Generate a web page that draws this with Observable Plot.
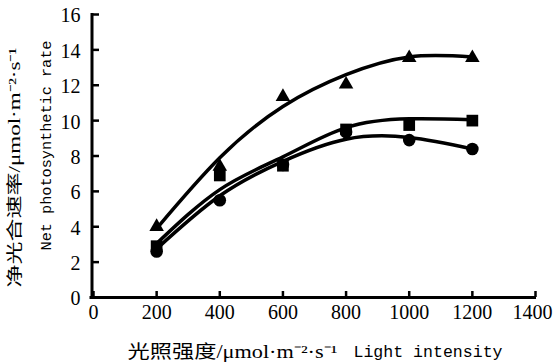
<!DOCTYPE html>
<html>
<head>
<meta charset="utf-8">
<script src="https://cdn.jsdelivr.net/npm/d3@7"></script>
<script src="https://cdn.jsdelivr.net/npm/@observablehq/plot@0.6"></script>
<style>
  html, body { margin: 0; padding: 0; background: #fff; }
  #chart g[aria-label$="tick label"], #chart g[aria-label$="tick label"] text {
    font-family: 'Liberation Serif', 'Times New Roman', serif !important;
  }
</style>
</head>
<body>
<div id="chart"></div>
<script>
// Light intensity levels (x)
const lightLevels = [200, 400, 600, 800, 1000, 1200];
// Measured points (markers)
const triangleValues = [4.0, 7.4, 11.35, 12.05, 13.55, 13.55];
const squareValues   = [2.9, 6.9, 7.45, 9.5, 9.75, 10.0];
const circleValues   = [2.6, 5.5, 7.5, 9.35, 8.9, 8.4];
// Fitted curves
const triangleCurve = [3.9, 7.9, 10.8, 12.6, 13.6, 13.6];
const squareCurve   = [3.05, 6.1, 7.95, 9.6, 10.1, 10.05];
const circleCurve   = [2.75, 5.75, 7.7, 8.95, 9.05, 8.4];
// Tick labels
const xTicks = [0, 200, 400, 600, 800, 1000, 1200, 1400];
const yTicks = [0, 2, 4, 6, 8, 10, 12, 14, 16];
// Titles
const yTitleCn = "净光合速率/μmol·m⁻²·s⁻¹";
const yTitleEn = "Net photosynthetic rate";
const xTitleCn = "光照强度/μmol·m⁻²·s⁻¹";
const xTitleEn = "Light intensity";

const toRows = (vals) => lightLevels.map((x, i) => ({x, y: vals[i]}));
const serifFont = "'Liberation Serif', 'Times New Roman', serif";
const cnFont = "'Liberation Serif', 'Noto Sans CJK SC', serif";
const monoFont = "'Liberation Mono', 'DejaVu Sans Mono', monospace";
const fmt = d => String(d);

const plot = Plot.plot({
  width: 553,
  height: 363,
  marginLeft: 93,
  marginRight: 18,
  marginTop: 14,
  marginBottom: 66,
  style: {fontFamily: serifFont, fontSize: "20px", background: "#fff", color: "#000"},
  x: {domain: [0, 1400]},
  y: {domain: [0, 16]},
  marks: [
    // axis lines
    Plot.ruleX([0], {dx: -1.5, strokeWidth: 3, insetTop: -1, insetBottom: -1.5}),
    Plot.ruleY([0], {strokeWidth: 3, insetLeft: -3.5, insetRight: -1}),
    // inward tick marks
    Plot.axisX(xTicks, {tickSize: -6, text: null, strokeWidth: 2.5, label: null}),
    Plot.axisY(yTicks, {tickSize: -6, text: null, strokeWidth: 2.5, label: null}),
    // tick labels
    Plot.axisX(xTicks, {tickSize: 0, tickPadding: 7, label: null, fontSize: 20, fontFamily: serifFont, tickFormat: fmt}),
    Plot.axisY(yTicks, {tickSize: 0, tickPadding: 13, dy: 1.5, label: null, fontSize: 20, fontFamily: serifFont, tickFormat: fmt}),
    // curves
    Plot.line(toRows(circleCurve), {x: "x", y: "y", curve: "natural", stroke: "#000", strokeWidth: 3.5}),
    Plot.line(toRows(squareCurve), {x: "x", y: "y", curve: "natural", stroke: "#000", strokeWidth: 3.5}),
    Plot.line(toRows(triangleCurve), {x: "x", y: "y", curve: "natural", stroke: "#000", strokeWidth: 3.5}),
    // markers
    Plot.dot(toRows(circleValues), {x: "x", y: "y", symbol: "circle", r: 6.3, fill: "#000"}),
    Plot.dot(toRows(squareValues), {x: "x", y: "y", symbol: "square", r: 6.6, fill: "#000"}),
    Plot.dot(toRows(triangleValues), {x: "x", y: "y", symbol: "triangle", r: 5.4, fill: "#000"}),
    // axis titles
    Plot.text([yTitleCn], {text: d => d, frameAnchor: "left", textAnchor: "middle", lineAnchor: "middle", rotate: -90, dx: -79, dy: 11.5, fontSize: 16, fontFamily: cnFont}),
    Plot.text([yTitleEn], {text: d => d, frameAnchor: "left", textAnchor: "middle", lineAnchor: "middle", rotate: -90, dx: -47, dy: -10.5, fontSize: 15, fontFamily: monoFont}),
    Plot.text([xTitleCn], {text: d => d, frameAnchor: "bottom", textAnchor: "middle", lineAnchor: "middle", dx: -82, dy: 54.5, fontSize: 18.5, fontFamily: cnFont}),
    Plot.text([xTitleEn], {text: d => d, frameAnchor: "bottom", textAnchor: "middle", lineAnchor: "middle", dx: 113.5, dy: 54.5, fontSize: 16.5, fontFamily: monoFont})
  ]
});

const fit = new Map([[yTitleCn, 240], [yTitleEn, 210], [xTitleCn, 210], [xTitleEn, 149]]);
d3.select(plot).selectAll("text").each(function() {
  const len = fit.get(this.textContent);
  if (len) d3.select(this).attr("textLength", len).attr("lengthAdjust", "spacingAndGlyphs");
});
// nudge the last x tick label inward so it stays within the picture
d3.select(plot).selectAll('g[aria-label="x-axis tick label"] text')
  .filter(function() { return this.textContent === String(xTicks[xTicks.length - 1]); })
  .attr("dx", -3);
document.getElementById("chart").appendChild(plot);
</script>
</body>
</html>
